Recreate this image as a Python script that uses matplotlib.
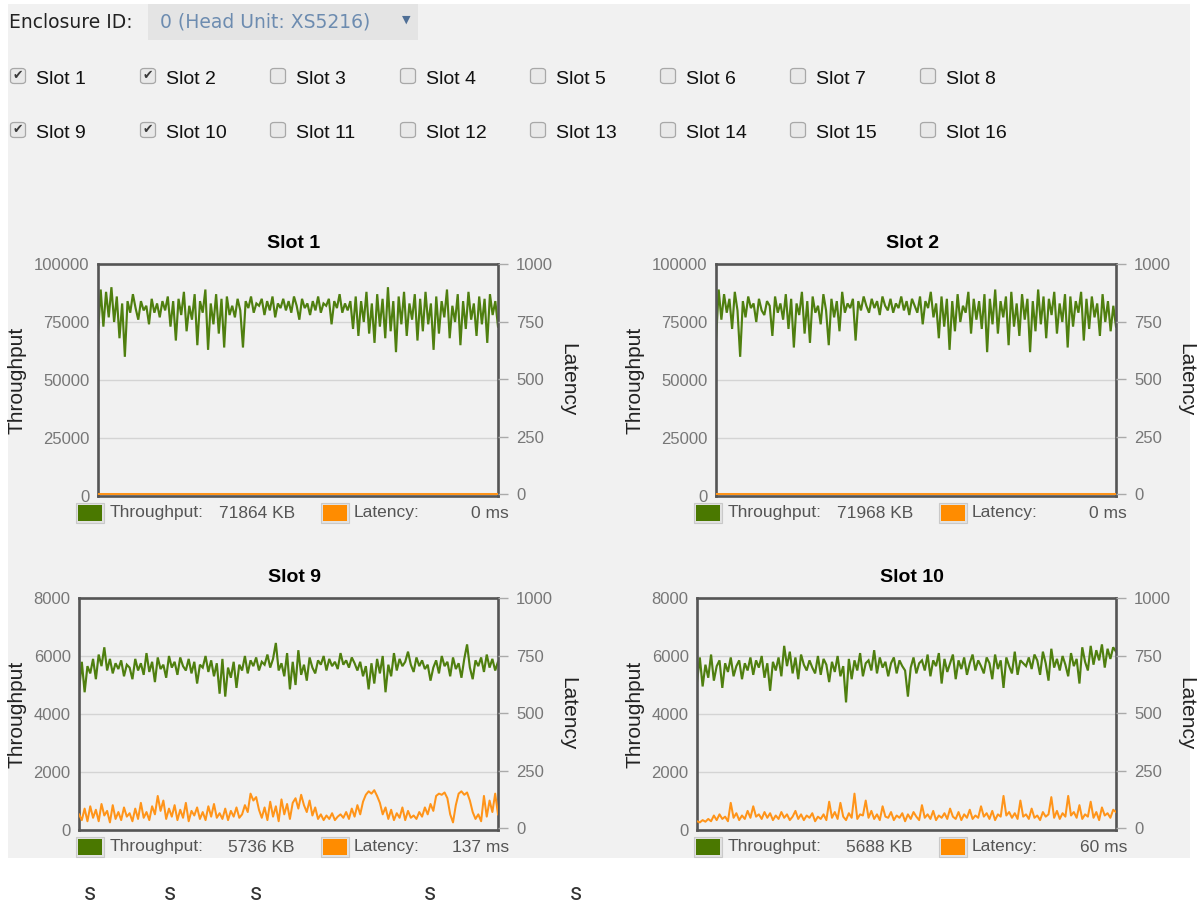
import matplotlib
matplotlib.use("Agg")
import matplotlib.pyplot as plt
from matplotlib.patches import Rectangle, FancyBboxPatch

plt.rcParams['font.family'] = ['Liberation Sans', 'DejaVu Sans']

# ---------------- data ----------------
enclosure_label = "Enclosure ID:"
enclosure_value = "0 (Head Unit: XS5216)"
slot_labels = ["Slot 1", "Slot 2", "Slot 3", "Slot 4", "Slot 5", "Slot 6", "Slot 7", "Slot 8",
               "Slot 9", "Slot 10", "Slot 11", "Slot 12", "Slot 13", "Slot 14", "Slot 15", "Slot 16"]
slot_checked = [True, True, False, False, False, False, False, False,
                True, True, False, False, False, False, False, False]

chart_titles = ["Slot 1", "Slot 2", "Slot 9", "Slot 10"]
throughput_current = ["71864 KB", "71968 KB", "5736 KB", "5688 KB"]
latency_current = ["0 ms", "0 ms", "137 ms", "60 ms"]
throughput_ticks_top = [0, 25000, 50000, 75000, 100000]
throughput_ticks_bottom = [0, 2000, 4000, 6000, 8000]
latency_ticks = [0, 250, 500, 750, 1000]
footer_letters = ["s", "s", "s", "s", "s"]

slot1_throughput = [
    70000, 89000, 73000, 88000, 77000, 90000, 75000, 86000, 68000, 83000, 60000, 84000, 79000, 87000, 81000,
    76000, 84000, 80000, 82000, 74000, 85000, 79000, 83000, 77000, 84000,
    80000, 86000, 73000, 84000, 67000, 85000, 78000, 88000, 71000, 82000, 76000, 87000, 65000, 84000, 79000,
    89000, 63000, 83000, 74000, 87000, 70000, 85000, 64000, 86000, 78000,
    82000, 77000, 85000, 80000, 64000, 84000, 81000, 86000, 79000, 83000, 82000, 85000, 78000, 84000, 80000,
    86000, 77000, 83000, 81000, 85000,
    80000, 84000, 79000, 86000, 82000, 76000, 85000, 81000, 83000, 78000, 84000, 80000, 86000, 79000, 83000,
    82000, 85000, 74000, 84000, 81000, 87000, 79000, 83000, 80000, 84000,
    72000, 86000, 69000, 84000, 75000, 88000, 70000, 83000, 66000, 87000, 73000, 85000, 68000, 90000, 71000,
    84000, 62000, 86000, 74000, 88000, 69000, 83000, 76000, 87000, 67000,
    85000, 71000, 88000, 74000, 83000, 63000, 86000, 70000, 84000, 77000, 89000, 68000, 82000, 75000, 87000,
    65000, 84000, 72000, 88000, 76000, 83000, 69000, 86000, 74000, 85000, 66000, 87000, 78000, 84000, 73000]
slot1_latency = [0, 0, 0, 0, 0, 0, 0, 0, 0, 0, 0, 0, 0, 0, 0, 0, 0, 0, 0, 0]

slot2_throughput = [
    67000, 89000, 76000, 87000, 79000, 85000, 72000, 88000, 80000, 60000, 84000, 77000, 86000, 81000, 83000,
    75000, 85000, 80000, 78000, 84000, 82000, 69000, 86000, 79000, 83000,
    76000, 87000, 72000, 85000, 64000, 83000, 78000, 88000, 70000, 84000, 66000, 86000, 79000, 82000, 74000,
    87000, 80000, 65000, 85000, 77000, 84000, 71000, 88000, 79000, 83000,
    81000, 85000, 67000, 84000, 80000, 86000, 82000, 79000, 85000, 81000, 84000, 78000, 86000, 82000, 80000,
    85000, 79000, 83000, 81000, 86000, 80000, 84000, 78000, 85000, 82000,
    79000, 86000, 74000, 84000, 81000, 88000, 77000, 83000, 68000, 86000, 73000, 85000, 63000, 84000, 71000,
    87000, 75000, 82000, 79000, 88000, 70000, 85000, 76000, 84000, 72000,
    87000, 62000, 85000, 74000, 89000, 70000, 84000, 77000, 86000, 65000, 88000, 73000, 83000, 69000, 87000,
    76000, 85000, 62000, 84000, 71000, 89000, 74000, 86000, 68000, 85000,
    78000, 88000, 70000, 83000, 75000, 87000, 64000, 86000, 73000, 84000, 79000, 88000, 67000, 85000, 72000,
    86000, 77000, 83000, 69000, 87000, 75000, 84000, 71000, 82000, 73000]
slot2_latency = [0, 0, 0, 0, 0, 0, 0, 0, 0, 0, 0, 0, 0, 0, 0, 0, 0, 0, 0, 0]

slot9_throughput = [
    4800, 5800, 4750, 5650, 5400, 5900, 5200, 6050, 5650, 6300, 5500, 5900, 5400, 5750, 5550,
    5850, 5300, 5700, 5600, 5200, 5900, 5500, 5750, 5350, 6100,
    5450, 5800, 5100, 5950, 5550, 5700, 5250, 6000, 5600, 5800, 5350, 5950, 5650, 5500, 5900,
    5400, 5800, 5050, 5700, 5600, 6000, 5450, 5850, 5300, 5750,
    4700, 5900, 4600, 5600, 5250, 5800, 4900, 5700, 5500, 6000, 5400, 5850, 5650, 5950, 5500,
    5800, 5700, 6050, 5600, 5900, 6450, 5500, 5750, 5300, 6100,
    4850, 5800, 5000, 6200, 5350, 5700, 5150, 5950, 5600, 5400, 5850, 5700, 6000, 5500, 5900,
    5650, 5800, 5550, 6100, 5700, 5850, 5600, 5950, 5750, 5500,
    5800, 5300, 5650, 4850, 5750, 5050, 5900, 5400, 6000, 4750, 5700, 5300, 6100, 5500, 5900,
    5650, 5800, 6150, 5700, 5450, 5950, 5650, 5850, 5550, 5700,
    5150, 5600, 5850, 5400, 6000, 5650, 5800, 5300, 5950, 5550, 5750, 5250, 5900, 6400, 5600,
    5200, 5850, 5650, 5950, 5450, 6050, 5600, 5900, 5500, 5800]
slot9_latency = [
    60, 35, 85, 30, 95, 45, 80, 30, 105, 55, 75, 25, 100, 40, 70, 35, 90, 50, 65, 30, 85, 40, 110, 45, 70,
    35, 95, 60, 140, 75, 120, 40, 85, 50, 100, 35, 80, 45, 110, 30, 75, 55, 90, 40, 70, 35, 95, 50, 105, 45,
    65, 40, 85, 35, 75, 50, 90, 45, 60, 100, 70, 150, 120, 135, 80, 45, 90, 35, 115, 50, 95, 30, 125, 60, 105,
    40, 110, 130, 85, 145, 100, 70, 120, 55, 90, 40, 60, 35, 55, 40, 65, 35, 50, 60, 45, 70, 40, 85, 50, 100,
    60, 115, 145, 160, 150, 165, 140, 110, 60, 90, 40, 80, 35, 65, 45, 90, 35, 75, 45, 55, 40, 70, 50, 90, 60,
    105, 75, 140, 150, 145, 155, 130, 60, 25, 100, 150, 160, 145, 155, 120, 70, 40, 60, 30, 140, 50, 120, 70, 150, 60]

slot10_throughput = [
    5100, 5950, 4950, 5700, 5250, 6050, 5150, 5650, 5850, 4900, 5750, 5450, 5950, 5300, 5650,
    5850, 5200, 5750, 5500, 5950, 5350, 5850, 5600, 6000, 5250,
    5750, 4800, 5800, 5500, 5950, 5300, 6350, 5650, 6150, 5400, 5950, 5200, 6050, 5700, 5500,
    5850, 5600, 5400, 6000, 5350, 5900, 5700, 5100, 5800, 5450,
    6000, 5300, 5650, 4400, 5900, 5200, 5850, 5500, 6100, 5300, 5750, 5850, 5500, 6200, 5400,
    5950, 5600, 5800, 5300, 5750, 5950, 5400, 5850, 5650, 5500,
    4600, 5600, 5950, 5400, 5750, 5850, 5500, 6050, 5300, 5850, 5650, 6100, 5050, 5900, 5450,
    5750, 6050, 5200, 5850, 5550, 5950, 5350, 5750, 6050, 5500,
    5850, 5650, 5400, 5950, 5750, 5200, 6050, 5550, 5850, 4900, 5950, 5650, 5400, 6150, 5350,
    5850, 5750, 5650, 5950, 5550, 6050, 5850, 5350, 6150, 5750,
    5150, 6250, 5600, 5900, 5500, 6000, 5700, 5300, 6100, 5650, 5900, 5050, 6300, 5800, 5500,
    6350, 5700, 6200, 5850, 6400, 5600, 6250, 5900, 6300, 6150]
slot10_latency = [
    30, 25, 35, 28, 40, 30, 55, 35, 60, 40, 50, 30, 110, 45, 65, 35, 55, 40, 75, 45, 95, 50, 60, 40, 70,
    45, 65, 35, 55, 40, 70, 45, 60, 35, 50, 75, 40, 60, 35, 55, 45, 65, 30, 50, 40, 60, 35, 115, 45, 70,
    40, 110, 50, 35, 65, 45, 150, 40, 60, 55, 120, 45, 75, 40, 60, 35, 95, 50, 45, 70, 35, 55, 45, 65, 30,
    60, 40, 70, 50, 35, 100, 45, 60, 40, 75, 35, 55, 45, 65, 40, 85, 50, 40, 70, 35, 60, 45, 80, 40, 55,
    45, 95, 50, 65, 40, 75, 35, 60, 50, 140, 55, 70, 45, 65, 40, 120, 50, 60, 40, 85, 45, 55, 35, 70, 50,
    60, 135, 45, 75, 40, 65, 50, 140, 55, 70, 45, 100, 40, 60, 50, 115, 45, 70, 35, 90, 55, 65, 45, 80, 70]

# ---------------- helpers ----------------
W, H = 1198, 907
fig = plt.figure(figsize=(W / 100, H / 100), dpi=100, facecolor='white')


def fx(x):
    return x / W


def fy(y):
    return 1 - y / H


def ftext(x, y, s, **kw):
    return fig.text(fx(x), fy(y), s, **kw)


def frect(x0, y0, x1, y1, **kw):
    r = Rectangle((fx(x0), fy(y1)), (x1 - x0) / W, (y1 - y0) / H,
                  transform=fig.transFigure, **kw)
    fig.patches.append(r)
    return r


GREEN_LINE = '#4f7f0f'
GREEN_KEY = '#4a7800'
ORANGE_LINE = '#ff9419'
ORANGE_KEY = '#ff8c00'
TICK_COLOR = '#777777'

# page background
frect(8, 4, 1190, 858, facecolor='#f1f1f1', edgecolor='none', zorder=-2)

# enclosure selector
ftext(9, 22, enclosure_label, family='DejaVu Sans', fontsize=13.5, color='#222222',
      ha='left', va='center')
frect(148, 4, 418, 40, facecolor='#e4e4e4', edgecolor='none', zorder=-1)
ftext(160, 22, enclosure_value, family='DejaVu Sans', fontsize=13.5, color='#6d8cb0',
      ha='left', va='center')
ftext(406, 20, "\u25BC", family='DejaVu Sans', fontsize=8, color='#4f6f96',
      ha='center', va='center')

# checkboxes
for i, (lab, chk) in enumerate(zip(slot_labels, slot_checked)):
    r, c = divmod(i, 8)
    cx = 18 + 130 * c
    cy = 76 + 54 * r
    box = FancyBboxPatch((fx(cx - 7.5), fy(cy + 7.5)), 15 / W, 15 / H,
                         boxstyle="round,pad=0,rounding_size=0.003",
                         transform=fig.transFigure, facecolor='#e9e9e9',
                         edgecolor='#a8a8a8', linewidth=0.9, zorder=1)
    fig.patches.append(box)
    if chk:
        ftext(cx, cy, "\u2714", family='DejaVu Sans', fontsize=9, color='#3a3a3a',
              ha='center', va='center')
    ftext(36 + 130 * c, cy + 3, lab, fontsize=14, color='#111111', ha='left', va='center')

# charts
charts = [
    (chart_titles[0], slot1_throughput, slot1_latency, throughput_ticks_top, 0, 0),
    (chart_titles[1], slot2_throughput, slot2_latency, throughput_ticks_top, 0, 1),
    (chart_titles[2], slot9_throughput, slot9_latency, throughput_ticks_bottom, 1, 0),
    (chart_titles[3], slot10_throughput, slot10_latency, throughput_ticks_bottom, 1, 1),
]

for k, (title, tp, lat, tticks, row, col) in enumerate(charts):
    off = 618 * col
    y0, y1 = (264, 496) if row == 0 else (598, 830)
    x0 = (98 if row == 0 else 79) + off
    x1 = 498 + off
    rect = [fx(x0), fy(y1), (x1 - x0) / W, (y1 - y0) / H]

    ax = fig.add_axes(rect, zorder=1)
    ax.set_facecolor('none')
    ax.plot(range(len(tp)), tp, color=GREEN_LINE, lw=1.55, solid_joinstyle='miter')
    ax.set_xlim(0, len(tp) - 1)
    ax.set_ylim(tticks[0], tticks[-1])
    ax.set_yticks(tticks)
    ax.set_yticklabels([str(t) for t in tticks])
    ax.set_xticks([])
    ax.tick_params(axis='y', length=0, pad=6, labelsize=12, labelcolor=TICK_COLOR)
    ax.grid(axis='y', color='#d4d4d4', lw=1.0)
    ax.set_axisbelow(True)
    for s in ax.spines.values():
        s.set_color('#555555')
        s.set_linewidth(1.9)
        s.set_zorder(2.6)

    ax2 = fig.add_axes(rect, zorder=2)
    ax2.set_facecolor('none')
    ax2.plot(range(len(lat)), lat, color=ORANGE_LINE, lw=1.45)
    ax2.set_xlim(0, len(lat) - 1)
    ax2.set_ylim(-8, latency_ticks[-1])
    ax2.set_yticks(latency_ticks)
    ax2.set_yticklabels([str(t) for t in latency_ticks])
    ax2.yaxis.tick_right()
    ax2.set_xticks([])
    ax2.tick_params(axis='y', length=7, width=1, color='#aaaaaa', pad=6,
                    labelsize=12, labelcolor=TICK_COLOR)
    for s in ax2.spines.values():
        s.set_visible(False)

    ymid = (y0 + y1) / 2
    ftext(294 + off, y0 - 21, title, fontsize=14, weight='bold', color='#000000',
          ha='center', va='center')
    ftext(17 + off, ymid, "Throughput", fontsize=15, color='#222222', rotation=90,
          ha='center', va='center')
    ftext(568 + off, ymid, "Latency", fontsize=15, color='#222222', rotation=270,
          ha='center', va='center')

    # legend
    ly = y1 + 17
    frect(76 + off, ly - 10, 104 + off, ly + 10, facecolor='#e2e2e2', edgecolor='#c9c9c9',
          linewidth=0.8, zorder=1)
    frect(78 + off, ly - 8, 102 + off, ly + 8, facecolor=GREEN_KEY, edgecolor='none', zorder=1.1)
    ftext(110 + off, ly, "Throughput:", fontsize=12.5, color='#555555', ha='left', va='center')
    ftext(295 + off, ly, throughput_current[k], fontsize=12.5, color='#555555',
          ha='right', va='center')
    frect(321 + off, ly - 10, 349 + off, ly + 10, facecolor='#e2e2e2', edgecolor='#c9c9c9',
          linewidth=0.8, zorder=1)
    frect(323 + off, ly - 8, 347 + off, ly + 8, facecolor=ORANGE_KEY, edgecolor='none', zorder=1.1)
    ftext(354 + off, ly, "Latency:", fontsize=12.5, color='#555555', ha='left', va='center')
    ftext(509 + off, ly, latency_current[k], fontsize=12.5, color='#555555',
          ha='right', va='center')

# footer letters
for xpos, letter in zip([90, 170, 256, 430, 576], footer_letters):
    ftext(xpos, 894, letter, family=['Roboto', 'DejaVu Sans'], fontsize=17, color='#333333',
          ha='center', va='center')

fig.savefig("out.png", dpi=100, facecolor='white')
